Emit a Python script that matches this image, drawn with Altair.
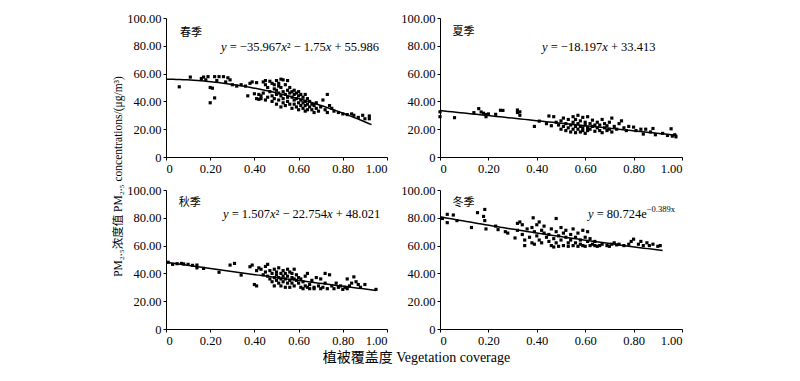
import altair as alt
import pandas as pd
import numpy as np

# ---------------- data ----------------
spring_x = [0.06, 0.11, 0.16, 0.17, 0.18, 0.19, 0.20, 0.20, 0.21, 0.22, 0.22, 0.23, 0.24, 0.26, 0.27, 0.28, 0.29,
            0.30, 0.32, 0.34, 0.36, 0.37, 0.38, 0.39, 0.40, 0.41, 0.41, 0.42, 0.42, 0.43, 0.43, 0.44, 0.44, 0.45,
            0.45, 0.45, 0.46, 0.46, 0.47, 0.47, 0.48, 0.48, 0.48, 0.49, 0.49, 0.49, 0.50, 0.50, 0.50, 0.50, 0.51,
            0.51, 0.51, 0.51, 0.52, 0.52, 0.52, 0.52, 0.53, 0.53, 0.53, 0.53, 0.54, 0.54, 0.54, 0.55, 0.55, 0.55,
            0.55, 0.56, 0.56, 0.56, 0.57, 0.57, 0.57, 0.58, 0.58, 0.58, 0.58, 0.59, 0.59, 0.59, 0.60, 0.60, 0.60,
            0.60, 0.61, 0.61, 0.61, 0.62, 0.62, 0.62, 0.63, 0.63, 0.63, 0.63, 0.64, 0.64, 0.64, 0.65, 0.65, 0.66,
            0.66, 0.67, 0.67, 0.68, 0.68, 0.69, 0.70, 0.71, 0.72, 0.73, 0.73, 0.74, 0.75, 0.76, 0.78, 0.80, 0.82,
            0.84, 0.85, 0.87, 0.89, 0.90, 0.92, 0.92]
spring_y = [50.5, 57.5, 56.5, 57.5, 55.5, 57.8, 50.0, 39.0, 49.5, 42.5, 57.8, 55.0, 57.8, 57.8, 54.0, 57.0, 55.5,
            52.0, 51.0, 52.0, 51.0, 44.0, 53.0, 54.0, 45.5, 42.0, 53.5, 45.0, 41.5, 44.0, 42.0, 54.0, 46.0, 52.0,
            41.0, 55.0, 43.0, 50.0, 54.5, 47.0, 44.0, 53.0, 40.0, 49.0, 52.0, 42.0, 55.0, 48.0, 45.0, 38.0, 53.0,
            51.0, 46.0, 41.0, 56.0, 50.0, 44.0, 36.0, 55.5, 47.0, 42.0, 39.0, 52.0, 45.0, 37.0, 55.0, 48.0, 43.0,
            40.0, 50.0, 46.0, 38.0, 47.0, 43.0, 35.0, 48.0, 45.0, 41.0, 38.0, 46.0, 42.0, 36.0, 47.0, 44.0, 39.0,
            34.0, 45.0, 41.0, 37.0, 43.0, 39.0, 35.0, 45.0, 40.0, 37.0, 33.0, 42.0, 38.0, 34.0, 40.0, 36.0, 38.0,
            34.0, 37.0, 32.0, 39.0, 35.0, 33.0, 36.0, 41.0, 34.0, 45.0, 32.0, 37.0, 35.0, 33.0, 32.0, 31.0, 30.5,
            31.0, 30.0, 28.5, 30.0, 27.5, 29.5, 27.5]

summer_x = [0.00, 0.00, 0.06, 0.14, 0.16, 0.17, 0.18, 0.19, 0.19, 0.20, 0.23, 0.25, 0.26, 0.32, 0.32, 0.33, 0.33,
            0.39, 0.41, 0.44, 0.45, 0.46, 0.47, 0.48, 0.49, 0.50, 0.50, 0.51, 0.51, 0.52, 0.52, 0.53, 0.53, 0.54,
            0.54, 0.55, 0.55, 0.55, 0.56, 0.56, 0.56, 0.57, 0.57, 0.57, 0.58, 0.58, 0.58, 0.59, 0.59, 0.59, 0.60,
            0.60, 0.60, 0.61, 0.61, 0.61, 0.62, 0.62, 0.63, 0.63, 0.64, 0.64, 0.65, 0.65, 0.66, 0.66, 0.67, 0.67,
            0.68, 0.68, 0.69, 0.69, 0.70, 0.70, 0.71, 0.71, 0.72, 0.73, 0.74, 0.75, 0.76, 0.77, 0.78, 0.80, 0.81,
            0.83, 0.84, 0.85, 0.87, 0.88, 0.89, 0.92, 0.94, 0.955, 0.96, 0.97, 0.975]
summer_y = [32.5, 29.0, 28.3, 31.9, 34.8, 32.4, 31.5, 30.5, 29.0, 31.0, 30.7, 33.6, 33.5, 33.8, 32.0, 30.0, 32.5,
            22.0, 25.8, 24.0, 29.5, 22.5, 29.0, 25.0, 23.0, 20.0, 26.0, 22.0, 28.0, 19.0, 24.0, 21.0, 27.0, 18.0,
            23.0, 25.0, 29.0, 20.0, 22.0, 27.0, 17.5, 24.0, 20.0, 30.0, 22.0, 18.0, 26.0, 21.0, 28.5, 19.0, 23.0,
            17.0, 25.0, 21.0, 29.0, 19.0, 24.0, 20.0, 22.0, 26.5, 18.5, 23.0, 21.0, 25.0, 19.0, 23.0, 17.5, 27.0,
            21.0, 24.0, 19.0, 22.5, 20.0, 25.0, 18.0, 28.0, 22.0, 20.0, 24.0, 26.0, 21.0, 19.0, 22.0, 21.5, 19.0,
            20.0, 16.5, 20.0, 18.0, 20.5, 16.0, 17.0, 15.5, 20.3, 15.0, 16.0, 14.5]

autumn_x = [0.01, 0.03, 0.05, 0.07, 0.08, 0.10, 0.12, 0.14, 0.14, 0.17, 0.24, 0.29, 0.31, 0.34, 0.38, 0.39, 0.40,
            0.41, 0.41, 0.42, 0.43, 0.44, 0.45, 0.45, 0.46, 0.46, 0.47, 0.47, 0.48, 0.48, 0.49, 0.49, 0.49, 0.50,
            0.50, 0.50, 0.51, 0.51, 0.51, 0.52, 0.52, 0.52, 0.53, 0.53, 0.53, 0.54, 0.54, 0.54, 0.55, 0.55, 0.55,
            0.56, 0.56, 0.56, 0.57, 0.57, 0.57, 0.58, 0.58, 0.58, 0.59, 0.59, 0.60, 0.60, 0.61, 0.61, 0.62, 0.62,
            0.63, 0.63, 0.64, 0.64, 0.65, 0.65, 0.66, 0.67, 0.67, 0.68, 0.69, 0.70, 0.70, 0.71, 0.72, 0.72, 0.73,
            0.74, 0.75, 0.76, 0.77, 0.78, 0.79, 0.80, 0.81, 0.82, 0.82, 0.83, 0.84, 0.85, 0.86, 0.87, 0.88, 0.90,
            0.95]
autumn_y = [48.0, 46.5, 47.0, 47.2, 46.8, 46.5, 45.8, 46.0, 44.0, 43.6, 40.8, 46.0, 47.2, 38.8, 44.8, 46.0, 32.0,
            31.0, 42.0, 44.0, 43.0, 39.0, 45.0, 41.0, 46.5, 38.0, 42.0, 36.0, 40.0, 34.0, 43.0, 37.0, 31.0, 41.0,
            35.0, 39.0, 33.0, 44.0, 37.0, 40.0, 31.0, 36.0, 42.0, 34.0, 38.0, 30.0, 40.0, 36.0, 43.0, 33.0, 38.0,
            35.0, 41.0, 30.0, 37.0, 33.0, 40.0, 36.0, 31.0, 43.0, 35.0, 39.0, 33.0, 37.0, 30.0, 36.0, 34.0, 29.0,
            38.0, 31.0, 30.0, 40.0, 32.0, 29.0, 35.0, 30.0, 29.0, 37.0, 31.0, 29.0, 36.0, 30.0, 33.0, 40.0, 29.0,
            39.0, 31.0, 29.0, 33.0, 30.0, 31.0, 28.5, 30.0, 36.0, 29.0, 31.0, 33.0, 37.5, 34.0, 32.0, 30.0, 32.0,
            28.5]

winter_x = [0.01, 0.03, 0.03, 0.055, 0.07, 0.13, 0.155, 0.18, 0.185, 0.185, 0.19, 0.23, 0.24, 0.27, 0.28, 0.31,
            0.32, 0.32, 0.33, 0.34, 0.34, 0.35, 0.35, 0.36, 0.37, 0.38, 0.38, 0.385, 0.39, 0.39, 0.40, 0.40, 0.41,
            0.41, 0.42, 0.42, 0.43, 0.43, 0.44, 0.45, 0.45, 0.46, 0.46, 0.47, 0.47, 0.48, 0.48, 0.48, 0.49, 0.49,
            0.50, 0.50, 0.51, 0.51, 0.52, 0.52, 0.53, 0.53, 0.54, 0.54, 0.55, 0.55, 0.56, 0.56, 0.57, 0.57, 0.58,
            0.58, 0.59, 0.59, 0.60, 0.60, 0.61, 0.61, 0.62, 0.62, 0.63, 0.64, 0.64, 0.65, 0.66, 0.67, 0.69, 0.70,
            0.71, 0.72, 0.73, 0.74, 0.76, 0.78, 0.79, 0.80, 0.82, 0.83, 0.84, 0.855, 0.865, 0.88, 0.90, 0.91]
winter_y = [79.5, 82.5, 76.5, 82.0, 78.0, 73.0, 83.7, 81.0, 86.0, 78.0, 72.0, 74.0, 71.5, 70.0, 69.0, 65.5,
            76.0, 71.0, 77.0, 68.0, 75.0, 60.0, 64.0, 72.0, 66.0, 62.0, 73.0, 80.0, 70.0, 61.0, 75.0, 67.0, 64.0,
            77.0, 71.0, 62.0, 69.0, 74.0, 66.0, 63.0, 68.0, 60.0, 72.0, 65.0, 59.0, 79.5, 70.0, 62.0, 67.0, 59.5,
            73.0, 64.0, 69.0, 60.0, 66.0, 71.0, 62.0, 59.5, 68.0, 64.0, 60.0, 72.0, 66.0, 62.0, 59.5, 69.0, 64.0,
            61.0, 71.0, 60.0, 66.0, 59.5, 63.0, 70.0, 60.0, 65.0, 61.0, 60.0, 63.0, 59.5, 60.0, 61.0, 60.0, 59.5,
            61.0, 62.0, 60.5, 61.0, 60.0, 61.0, 63.0, 64.6, 61.0, 63.0, 60.0, 62.0, 60.0, 61.0, 59.5, 60.0]

seasons = ["春季", "夏季", "秋季", "冬季"]

# fitted trend lines as printed on the chart
spring_coef = [-35.967, -1.75, 55.986]   # a*x^2 + b*x + c
summer_coef = [-18.197, 33.413]          # a*x + b
autumn_coef = [1.507, -22.754, 48.021]   # a*x^2 + b*x + c
winter_coef = [80.724, -0.389]           # a*exp(b*x)
line_end = [0.93, 0.98, 0.95, 0.92]

x_ticks = [0, 0.2, 0.4, 0.6, 0.8, 1.0]
y_ticks = [0, 20, 40, 60, 80, 100]

y_title = "PM₂.₅浓度值 PM₂.₅ concentrations/(μg/m³)"
x_title = "植被覆盖度 Vegetation coverage"

SERIF = "Liberation Serif"
CJK = "Noto Sans CJK SC"
MIXED = "'Liberation Serif', 'Noto Sans CJK SC'"
EQ_SIZE = 12.5
SUP_SIZE = 8.5

W_LEFT, W_RIGHT, H = 221, 242, 139

# Times / Liberation Serif advance widths (em)
EM = {"0": .5, "1": .5, "2": .5, "3": .5, "4": .5, "5": .5, "6": .5, "7": .5, "8": .5, "9": .5,
      ".": .25, " ": .25, "=": .564, "−": .564, "+": .564, "x": .444, "y": .444, "e": .444, "²": .3}


def seg_width(text, size):
    return sum(EM.get(c, .5) for c in text) * size


def curve(kind, coef, end):
    xs = np.linspace(0, end, 60)
    if kind == "quad":
        ys = coef[0] * xs ** 2 + coef[1] * xs + coef[2]
    elif kind == "lin":
        ys = coef[0] * xs + coef[1]
    else:
        ys = coef[0] * np.exp(coef[1] * xs)
    return pd.DataFrame({"x": xs, "y": ys})


def panel(xs, ys, kind, coef, end, width, season, lab_px, eq_segments, eq_px, ytitle=False, xtitle=False):
    sx = alt.Scale(domain=[0, 1], nice=False, zero=False)
    sy = alt.Scale(domain=[0, 100], nice=False, zero=False)
    lab_expr = "datum.value == 0 ? '0' : format(datum.value, '.2f')"
    if xtitle:
        xaxis = alt.Axis(values=x_ticks, labelExpr=lab_expr, title=x_title, titleX=418 - 168, titleY=28,
                         titleAlign="center", titleBaseline="middle", titleFont=MIXED, titleFontSize=14,
                         titleFontWeight="normal")
    else:
        xaxis = alt.Axis(values=x_ticks, labelExpr=lab_expr, title=None)
    if ytitle:
        yaxis = alt.Axis(values=y_ticks, labelExpr=lab_expr, title=y_title, titleX=-48, titleY=-14,
                         titleAngle=270, titleAlign="center", titleBaseline="middle", titleFont=MIXED,
                         titleFontSize=11.5, titleFontWeight="normal")
    else:
        yaxis = alt.Axis(values=y_ticks, labelExpr=lab_expr, title=None)

    def enc(chart):
        return chart.encode(x=alt.X("x:Q", scale=sx, axis=xaxis), y=alt.Y("y:Q", scale=sy, axis=yaxis))

    pts = enc(alt.Chart(pd.DataFrame({"x": xs, "y": ys})).mark_square(size=10, color="black", opacity=1))
    line = enc(alt.Chart(curve(kind, coef, end)).mark_line(color="black", strokeWidth=1.5))

    # season label
    lab = enc(alt.Chart(pd.DataFrame({"x": [lab_px[0] / width], "y": [(H - lab_px[1]) / H * 100],
                                      "t": [season]}))
              .mark_text(font=CJK, fontSize=11, align="center", baseline="middle", color="black")
              ).encode(text="t:N")

    # equation pieces (spaces are turned into offsets, since SVG drops leading/trailing blanks)
    rows = {"n": [], "i": [], "s": []}
    off = 0.0
    for text, style in eq_segments:
        size = SUP_SIZE if style == "s" else EQ_SIZE
        lead = len(text) - len(text.lstrip(" "))
        off += seg_width(" " * lead, size)
        core = text.strip(" ")
        ypx = eq_px[1] - (5 if style == "s" else 0)
        rows[style].append({"x": (eq_px[0] + off) / width, "y": (H - ypx) / H * 100, "t": core})
        off += seg_width(text[lead:], size)
    layers = [pts, line, lab]
    for style, rr in rows.items():
        if not rr:
            continue
        mk = alt.Chart(pd.DataFrame(rr)).mark_text(
            font=SERIF, fontSize=SUP_SIZE if style == "s" else EQ_SIZE, align="left", baseline="middle",
            color="black", fontStyle="italic" if style == "i" else "normal")
        layers.append(enc(mk).encode(text="t:N"))
    return alt.layer(*layers).properties(width=width, height=H)


p1 = panel(spring_x, spring_y, "quad", spring_coef, line_end[0], W_LEFT, seasons[0], (25, 14.8),
           [("y", "i"), (" = −35.967", "n"), ("x", "i"), ("²", "n"), (" − 1.75", "n"), ("x", "i"),
            (" + 55.986", "n")], (55, 29))
p2 = panel(summer_x, summer_y, "lin", summer_coef, line_end[1], W_RIGHT, seasons[1], (23.5, 14),
           [("y", "i"), (" = −18.197", "n"), ("x", "i"), (" + 33.413", "n")], (102, 29))
p3 = panel(autumn_x, autumn_y, "quad", autumn_coef, line_end[2], W_LEFT, seasons[2], (23.7, 12.5),
           [("y", "i"), (" = 1.507", "n"), ("x", "i"), ("²", "n"), (" − 22.754", "n"), ("x", "i"),
            (" + 48.021", "n")], (57, 24), ytitle=True, xtitle=True)
p4 = panel(winter_x, winter_y, "exp", winter_coef, line_end[3], W_RIGHT, seasons[3], (23.5, 12.5),
           [("y", "i"), (" = 80.724e", "n"), ("−0.389x", "s")], (148, 23.5))

chart = alt.concat(p1, p2, p3, p4, columns=2, spacing={"row": 33, "column": 53}, bounds="flush").properties(
    padding={"left": 103, "top": 4, "right": 5, "bottom": 5}
).configure_view(stroke=None).configure_axis(
    grid=False, domainColor="black", domainWidth=1, tickColor="black", tickSize=3, tickWidth=1,
    labelColor="black", labelFont=SERIF, labelFontSize=12.5, labelPadding=2, titleColor="black"
)

chart.save("out.html", embed_options={"renderer": "svg", "actions": False})
